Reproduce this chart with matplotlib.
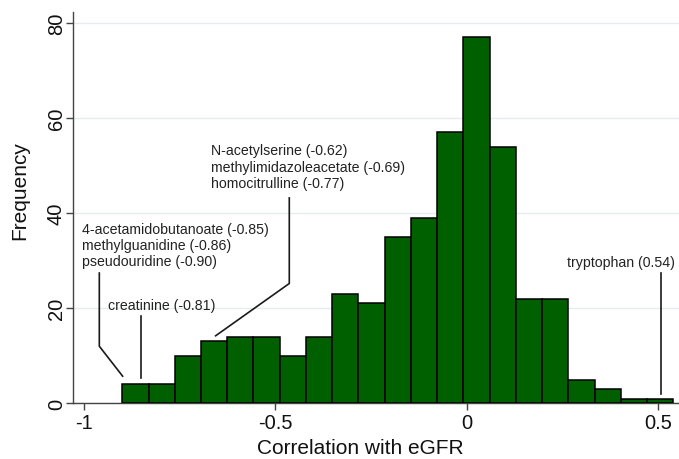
import numpy as np
import matplotlib
matplotlib.use("Agg")
import matplotlib.pyplot as plt

plt.rcParams['font.family'] = ['Liberation Sans', 'DejaVu Sans']

# histogram of correlations with eGFR (21 bins from min to max)
r_min, r_max = -0.90, 0.54
counts = [4, 4, 10, 13, 14, 14, 10, 14, 23, 21, 35, 39, 57, 77, 54, 22, 22, 5, 3, 1, 1]

# labelled metabolites
labels = [
    "4-acetamidobutanoate (-0.85)\nmethylguanidine (-0.86)\npseudouridine (-0.90)",
    "creatinine (-0.81)",
    "N-acetylserine (-0.62)\nmethylimidazoleacetate (-0.69)\nhomocitrulline (-0.77)",
    "tryptophan (0.54)",
]

edges = np.linspace(r_min, r_max, len(counts) + 1)

fig = plt.figure(figsize=(6.79, 4.60), dpi=100)
ax = fig.add_axes([0.1071, 0.1211, 0.8929, 0.8506])

ax.bar(edges[:-1], counts, width=np.diff(edges), align='edge',
       color='#006000', edgecolor='black', linewidth=1.1, zorder=3)

# label text and leader lines
txt = dict(fontsize=10.2, color='#222222', linespacing=1.2, zorder=4)
ax.text(-1.006, 33.3, labels[0], ha='left', va='center', **txt)
ax.text(-0.938, 20.6, labels[1], ha='left', va='center', **txt)
ax.text(-0.667, 49.8, labels[2], ha='left', va='center', **txt)
ax.text(0.543, 29.8, labels[3], ha='right', va='center', **txt)

lw = dict(color='#1a1a1a', linewidth=1.2, zorder=4)
ax.plot([-0.960, -0.960, -0.899], [27.4, 12.0, 5.7], **lw)
ax.plot([-0.850, -0.850], [18.3, 5.4], **lw)
ax.plot([-0.4635, -0.4635, -0.656], [43.2, 25.2, 14.2], **lw)
ax.plot([0.509, 0.509], [27.4, 1.9], **lw)

ax.set_xlim(-1.0295, 0.555)
ax.set_ylim(0, 82.3)
ax.set_xticks([-1, -0.5, 0, 0.5])
ax.set_xticklabels(['-1', '-0.5', '0', '0.5'])
ax.set_yticks([0, 20, 40, 60, 80])
ax.tick_params(axis='both', labelsize=14.5, length=5, width=1, color='#444444',
               labelcolor='#111111')
ax.tick_params(axis='x', pad=2)
ax.tick_params(axis='y', pad=0)
for lab in ax.get_yticklabels():
    lab.set_rotation(90)
    lab.set_va('center')

ax.yaxis.grid(True, color='#e3edf1', linewidth=1, zorder=0)
ax.set_axisbelow(True)

for s in ['top', 'right']:
    ax.spines[s].set_visible(False)
for s in ['left', 'bottom']:
    ax.spines[s].set_color('#444444')
    ax.spines[s].set_linewidth(1)

ax.set_xlabel('Correlation with eGFR', fontsize=15, color='#111111')
ax.set_ylabel('Frequency', fontsize=15, color='#111111')
ax.xaxis.set_label_coords(0.474, -0.088)
ax.yaxis.set_label_coords(-0.072, 0.547)

fig.savefig('out.png', dpi=100)
